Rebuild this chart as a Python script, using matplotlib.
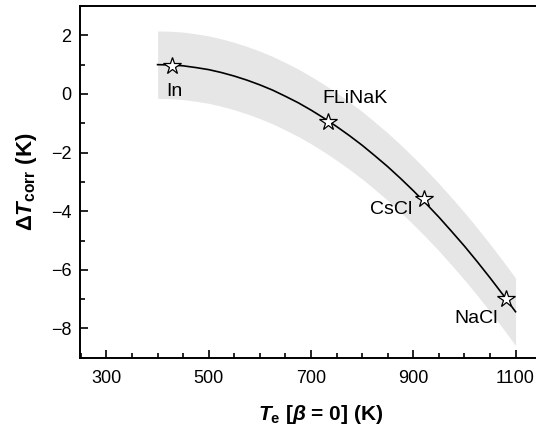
import numpy as np
import matplotlib
matplotlib.use('Agg')
from matplotlib import pyplot as plt

plt.rcParams['font.family'] = ['Liberation Sans', 'DejaVu Sans']
plt.rcParams['mathtext.fontset'] = 'custom'
plt.rcParams['mathtext.it'] = 'Liberation Sans:bold:italic'
plt.rcParams['mathtext.rm'] = 'Liberation Sans:bold'
plt.rcParams['mathtext.bf'] = 'Liberation Sans:bold'

# fitted correction curve
curveT = [400, 425, 450, 475, 500, 525, 550, 575, 600, 625, 650, 675, 700, 725, 750,
          775, 800, 825, 850, 875, 900, 925, 950, 975, 1000, 1025, 1050, 1075, 1100]
curveDT = [1.00, 0.99, 0.96, 0.90, 0.83, 0.73, 0.61, 0.47, 0.31, 0.13, -0.08, -0.30,
           -0.55, -0.82, -1.11, -1.42, -1.75, -2.11, -2.48, -2.88, -3.30, -3.74,
           -4.20, -4.69, -5.19, -5.72, -6.27, -6.84, -7.43]
bandUpper = [2.15, 2.14, 2.11, 2.05, 1.98, 1.88, 1.76, 1.62, 1.46, 1.28, 1.07, 0.85,
             0.60, 0.33, 0.04, -0.27, -0.60, -0.96, -1.33, -1.73, -2.15, -2.59,
             -3.05, -3.54, -4.04, -4.57, -5.12, -5.69, -6.28]
bandLower = [-0.15, -0.16, -0.19, -0.25, -0.32, -0.42, -0.54, -0.68, -0.84, -1.02,
             -1.23, -1.45, -1.70, -1.97, -2.26, -2.57, -2.90, -3.26, -3.63, -4.03,
             -4.45, -4.89, -5.35, -5.84, -6.34, -6.87, -7.42, -7.99, -8.58]

# reference materials
materials = ['In', 'FLiNaK', 'CsCl', 'NaCl']
matT = [429, 734, 920, 1081]
matDT = [0.97, -0.96, -3.60, -6.99]
labelOffsets = [(1.5, -19), (19.5, 17), (-23, -7), (-21.5, -14)]

fig = plt.figure(figsize=(5.36, 4.30), dpi=100)
ax = fig.add_axes([0.149, 0.168, 0.851, 0.818])

ax.fill_between(curveT, bandLower, bandUpper, color='#e6e6e6', linewidth=0)
ax.plot(curveT, curveDT, color='black', linewidth=1.2)
ax.plot(matT, matDT, linestyle='none', marker='*', markersize=13,
        markerfacecolor='white', markeredgecolor='black', markeredgewidth=0.9)

for name, t, dt, off in zip(materials, matT, matDT, labelOffsets):
    ax.annotate(name, (t, dt), xytext=off, textcoords='offset points',
                ha='center', va='center', fontsize=14)

ax.set_xlim(248, 1140)
ax.set_ylim(-9, 3)
ax.set_xticks([300, 500, 700, 900, 1100])
ax.set_xticks(np.arange(250, 1150, 50), minor=True)
ax.set_yticks([-8, -6, -4, -2, 0, 2])
ax.set_yticklabels(['\u22128', '\u22126', '\u22124', '\u22122', '0', '2'])
ax.set_yticks(np.arange(-9, 3.5, 1), minor=True)

ax.spines['right'].set_visible(False)
for s in ['left', 'bottom', 'top']:
    ax.spines[s].set_linewidth(1.4)
ax.tick_params(which='both', direction='in', width=1.2, labelsize=13, top=False, right=False)
ax.tick_params(which='major', length=6)
ax.tick_params(which='minor', length=3.5)
ax.tick_params(axis='x', pad=9)
ax.tick_params(axis='y', pad=6)

ax.set_xlabel(r'$T_{\mathrm{e}}$ [$\beta$ = 0] (K)', fontsize=15, fontweight='bold')
ax.set_ylabel('$\\mathit{\u0394T}_{\\mathrm{corr}}$ (K)', fontsize=16, fontweight='bold')
ax.xaxis.set_label_coords(0.527, -0.129)
ax.yaxis.set_label_coords(-0.09, 0.5)

fig.savefig('out.png', dpi=100)
